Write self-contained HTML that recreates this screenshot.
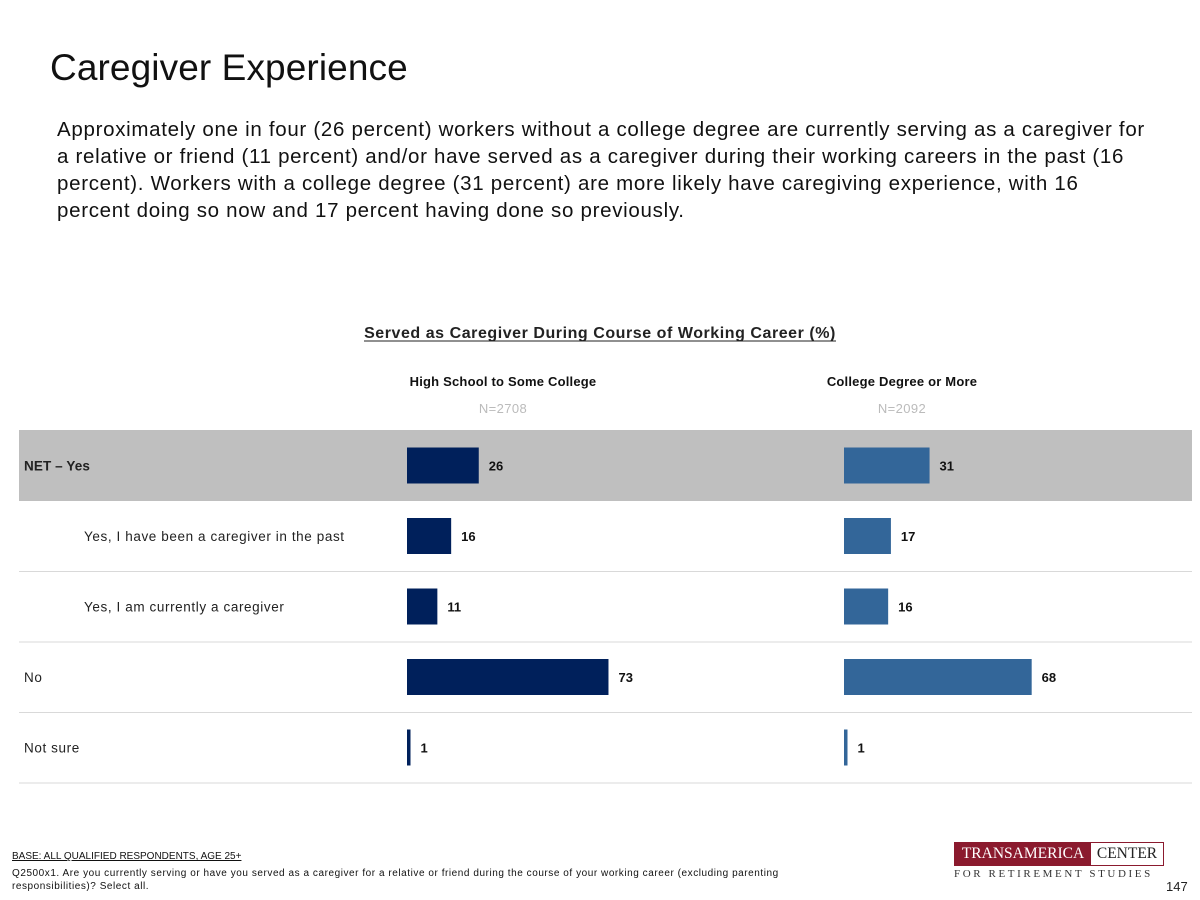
<!DOCTYPE html>
<html><head><meta charset="utf-8"><style>
body{margin:0;width:1200px;height:900px;background:#fff;overflow:hidden;position:relative;font-family:"Liberation Sans",sans-serif;}
.t{position:absolute;}
</style></head><body>
<div class="t" style="left:50px;top:47px;font-size:37px;letter-spacing:0.1px;color:#111;">Caregiver Experience</div>
<div class="t" style="left:57px;top:116px;width:1100px;font-size:20.5px;letter-spacing:0.7px;line-height:27px;color:#111;">Approximately one in four (26 percent) workers without a college degree are currently serving as a caregiver for a relative or friend (11 percent) and/or have served as a caregiver during their working careers in the past (16 percent). Workers with a college degree (31 percent) are more likely have caregiving experience, with 16 percent doing so now and 17 percent having done so previously.</div>
<svg id="chart" width="1200" height="900" style="position:absolute;left:0;top:0"></svg>
<div class="t" style="left:12px;top:851px;font-size:10px;color:#111;text-decoration:underline;">BASE: ALL QUALIFIED RESPONDENTS, AGE 25+</div>
<div class="t" style="left:12px;top:867px;width:850px;font-size:10px;letter-spacing:0.55px;line-height:13px;color:#111;">Q2500x1. Are you currently serving or have you served as a caregiver for a relative or friend during the course of your working career (excluding parenting responsibilities)? Select all.</div>
<div class="t" style="left:954px;top:842px;width:208px;height:22px;border:1px solid #8b1a2e;display:flex;font-family:'Liberation Serif',serif;font-size:15.5px;">
<div style="background:#8b1a2e;color:#fff;width:136px;text-align:center;line-height:22px;">TRANSAMERICA</div><div style="color:#222;flex:1;text-align:center;line-height:22px;">CENTER</div></div>
<div class="t" style="left:954px;top:868px;font-family:'Liberation Serif',serif;font-size:11px;letter-spacing:2.6px;color:#333;">FOR RETIREMENT STUDIES</div>
<div class="t" style="left:1166px;top:879px;font-size:13px;color:#222;">147</div>
<script>
const categories=["NET – Yes","Yes, I have been a caregiver in the past","Yes, I am currently a caregiver","No","Not sure"];
const indent=[false,true,true,false,false];
const hsValues=[26,16,11,73,1];
const colValues=[31,17,16,68,1];
const groups=["High School to Some College","College Degree or More"];
const groupN=["N=2708","N=2092"];
const svg=document.getElementById('chart');
const NS='http://www.w3.org/2000/svg';
function mk(tag,attrs,text){const e=document.createElementNS(NS,tag);for(const k in attrs)e.setAttribute(k,attrs[k]);if(text!=null)e.textContent=text;svg.appendChild(e);return e;}
const scale=v=>v*2.76;
const rowTop=i=>430+i*70.5;
const colX=[407,844];
const colors=["#00205b","#336699"];
const F='"Liberation Sans",sans-serif';
let e=mk('text',{x:600,y:338,'text-anchor':'middle','font-size':16,'letter-spacing':0.55,'font-weight':'bold',fill:'#222','font-family':F},'Served as Caregiver During Course of Working Career (%)');

mk('line',{x1:364,x2:836,y1:341,y2:341,stroke:'#222','stroke-width':1});
const hx=[503,902];
groups.forEach((g,j)=>{
 let t=mk('text',{x:hx[j],y:386,'text-anchor':'middle','font-size':13,'letter-spacing':0.2,'font-weight':'bold',fill:'#111','font-family':F},g);
 
 let n=mk('text',{x:hx[j],y:413,'text-anchor':'middle','font-size':13,'letter-spacing':0.4,fill:'#bbb','font-family':F},groupN[j]);
 
});
mk('rect',{x:19,y:430,width:1173,height:71,fill:'#bfbfbf'});
categories.forEach((c,i)=>{
 const y0=rowTop(i),cy=y0+35.5;
 if(i>0){let l=mk('line',{x1:19,x2:1192,y1:y0+71,y2:y0+71,stroke:'#d9d9d9','stroke-width':1});}
 let lab=mk('text',{x:indent[i]?84:24,y:cy+5,'font-size':13.5,'letter-spacing':i==0?0.1:0.6,'font-weight':i==0?'bold':'normal',fill:'#222','font-family':F},c);
 
 [hsValues,colValues].forEach((vals,j)=>{
  const w=Math.max(scale(vals[i]),3.5);
  let b=mk('rect',{x:colX[j],y:cy-18,width:w,height:36,fill:colors[j]});
  
  let v=mk('text',{x:colX[j]+w+10,y:cy+5,'font-size':13,'font-weight':'bold',fill:'#111','font-family':F},vals[i]);
  
 });
});
</script>
</body></html>
